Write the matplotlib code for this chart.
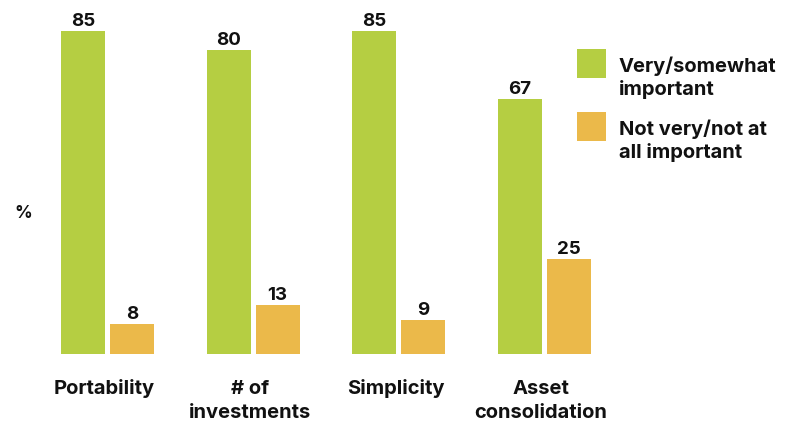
import matplotlib
matplotlib.use("Agg")
import matplotlib.pyplot as plt
from matplotlib.patches import Rectangle

categories = ["Portability", "# of\ninvestments", "Simplicity", "Asset\nconsolidation"]
important = [85, 80, 85, 67]
not_important = [8, 13, 9, 25]
series_names = ["Very/somewhat\nimportant", "Not very/not at\nall important"]
colors = ["#B5CE42", "#EBB94A"]

plt.rcParams['font.family'] = ['Inter', 'DejaVu Sans']

W, H = 792, 422
fig = plt.figure(figsize=(W / 100, H / 100), dpi=100)
ax = fig.add_axes([0, 0, 1, 1])
ax.axis('off')

spacing = 145.5
ax.set_xlim(-107.5 / spacing, (W - 107.5) / spacing)
ppu = 3.8
ax.set_ylim(-68 / ppu, (H - 68) / ppu)

bw = 44 / spacing
off = 24.5 / spacing
x = list(range(len(categories)))
for vals, dx, c in [(important, -off, colors[0]), (not_important, off, colors[1])]:
    xs = [i + dx for i in x]
    ax.bar(xs, vals, width=bw, color=c, linewidth=0)
    for xi, v in zip(xs, vals):
        ax.text(xi, v + 5 / ppu, str(v), ha='center', va='baseline', fontsize=13.5,
                fontweight='bold', color='#111111')

for i, cat in enumerate(categories):
    for k, line in enumerate(cat.split("\n")):
        base_px = 394 + 23.5 * k
        ax.text(i - 0.02, (354 - base_px) / ppu, line, ha='center', va='baseline',
                fontsize=14.5, fontweight='bold', color='#111111')

fig.text(23 / W, 1 - 213 / H, "%", ha='center', va='center', fontsize=12.5,
         fontweight='bold', color='#111111')

# legend
for j, (name, c) in enumerate(zip(series_names, colors)):
    top = 49 + j * 63
    fig.patches.append(Rectangle((577 / W, 1 - (top + 29) / H), 29 / W, 29 / H,
                                 transform=fig.transFigure, color=c, linewidth=0))
    for k, line in enumerate(name.split("\n")):
        base_px = top + 23 + 23 * k
        fig.text(619 / W, 1 - base_px / H, line, ha='left', va='baseline',
                 fontsize=14.5, fontweight='bold', color='#111111')

fig.savefig("out.png", dpi=100)
